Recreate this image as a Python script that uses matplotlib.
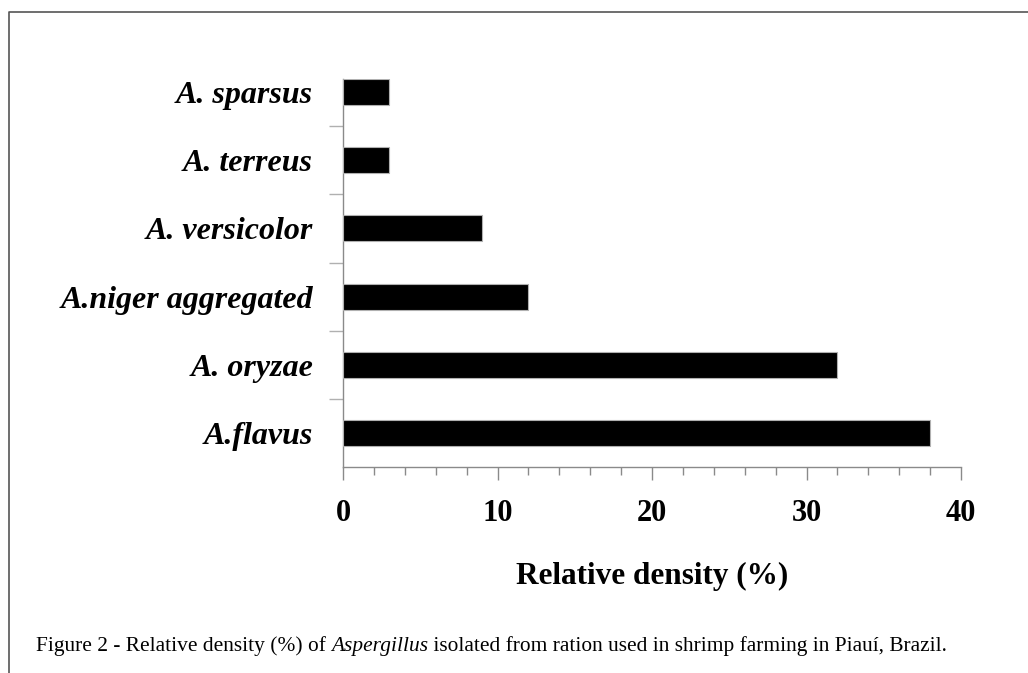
import matplotlib
matplotlib.use("Agg")
import matplotlib.pyplot as plt
from matplotlib.lines import Line2D
import numpy as np

species = ["A.flavus", "A. oryzae", "A.niger aggregated", "A. versicolor", "A. terreus", "A. sparsus"]
density = [38, 32, 12, 9, 3, 3]
xticks = [0, 10, 20, 30, 40]
xlabel = "Relative density (%)"
caption_parts = [("Figure 2 - Relative density (%) of ", "normal"),
                 ("Aspergillus", "italic"),
                 (" isolated from ration used in shrimp farming in Piauí, Brazil.", "normal")]

W, H = 1028, 673
fig = plt.figure(figsize=(W / 100, H / 100), dpi=100)
ax = fig.add_axes([343 / W, (H - 467.3) / H, (961 - 343) / W, (467.3 - 79) / H])

serif = "Liberation Serif"
y = np.arange(len(species))
ax.barh(y, density, height=0.38, color="black", edgecolor="#b0b0b0", linewidth=0.8, zorder=3)

ax.set_xlim(0, 40)
ax.set_ylim(-0.5, len(species) - 1 + 0.19)

for s in ["top", "right"]:
    ax.spines[s].set_visible(False)
for s in ["left", "bottom"]:
    ax.spines[s].set_color("#8a8a8a")
    ax.spines[s].set_linewidth(1.0)

ax.set_xticks(xticks)
ax.set_xticks(np.arange(0, 41, 2), minor=True)
ax.set_xticklabels([str(v) for v in xticks], fontfamily=serif, fontweight="bold", fontsize=22)
ax.tick_params(axis="x", which="major", direction="out", length=9, width=1, color="#8a8a8a", pad=14)
ax.tick_params(axis="x", which="minor", direction="out", length=6, width=1, color="#8a8a8a")

ax.set_yticks(y)
ax.set_yticklabels(species, fontfamily=serif, fontweight="bold", fontstyle="italic", fontsize=23)
ax.set_yticks(np.arange(len(species) - 1) + 0.5, minor=True)
ax.tick_params(axis="y", which="major", length=0, pad=21.5)
ax.tick_params(axis="y", which="minor", direction="out", length=10, width=1, color="#b0b0b0")

ax.set_xlabel(xlabel, fontfamily=serif, fontweight="bold", fontsize=22.5, labelpad=24)

# frame lines
fig.add_artist(Line2D([9 / W, 9 / W, 1.0], [0.0, (H - 12) / H, (H - 12) / H],
                      transform=fig.transFigure, color="#555555", linewidth=1.2))

# caption with italic genus
fig.canvas.draw()
renderer = fig.canvas.get_renderer()
x0 = 36 / W
yb = (H - 651) / H
for txt, style in caption_parts:
    t = fig.text(x0, yb, txt, fontfamily=serif, fontstyle=style, fontsize=15.4, va="baseline", ha="left")
    bb = t.get_window_extent(renderer=renderer)
    x0 += bb.width / W

fig.savefig("out.png", dpi=100)
